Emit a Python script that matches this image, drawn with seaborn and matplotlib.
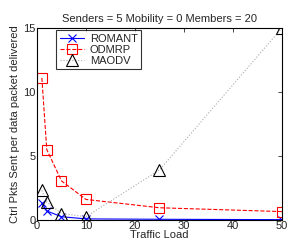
import matplotlib
matplotlib.use("Agg")
import matplotlib.pyplot as plt
import seaborn as sns
import pandas as pd

# Traffic load values and control packets per delivered data packet
traffic_load = [1, 2, 5, 10, 25, 50]
romant = [1.3, 0.7, 0.25, 0.08, 0.05, 0.02]
odmrp = [11.1, 5.5, 3.05, 1.6, 0.95, 0.65]
maodv = [2.3, 1.4, 0.5, 0.25, 3.9, 15.0]

df = pd.DataFrame({
    "load": traffic_load * 3,
    "value": romant + odmrp + maodv,
    "protocol": ["ROMANT"] * 6 + ["ODMRP"] * 6 + ["MAODV"] * 6,
})

sns.set_style("white")
plt.rcParams["font.family"] = ["Liberation Sans", "DejaVu Sans"]
plt.rcParams["font.size"] = 8

fig = plt.figure(figsize=(2.91, 2.43), dpi=100)
ax = fig.add_axes([0.127, 0.095, 0.842, 0.79])

styles = {
    "ROMANT": dict(color="blue", marker="x", linestyle="-", markersize=6),
    "ODMRP": dict(color="red", marker="s", linestyle="--", markersize=7),
    "MAODV": dict(color="black", marker="^", linestyle=":", markersize=9),
}
for name in ["ROMANT", "ODMRP", "MAODV"]:
    sub = df[df["protocol"] == name]
    st = styles[name]
    sns.lineplot(x=sub["load"], y=sub["value"], ax=ax, label=name,
                 color=st["color"], linestyle=st["linestyle"], linewidth=0.8,
                 marker=st["marker"], markersize=st["markersize"],
                 markerfacecolor="none", markeredgecolor=st["color"],
                 markeredgewidth=0.8)
# dotted MAODV line is grey in the original, markers stay black
ax.lines[2].set_color("#aaaaaa")
ax.lines[2].set_markeredgecolor("black")

ax.set_xlim(0, 50)
ax.set_ylim(0, 15)
ax.set_xticks([0, 10, 20, 30, 40, 50])
ax.set_yticks([0, 5, 10, 15])
ax.tick_params(direction="in", top=True, right=True, length=3, width=0.6, pad=1)
for s in ax.spines.values():
    s.set_linewidth(0.8)
    s.set_color("black")

ax.set_title("Senders = 5 Mobility = 0 Members = 20", fontsize=8, pad=4)
ax.set_xlabel("Traffic Load", labelpad=-1)
ax.set_ylabel("Ctrl Pkts Sent per data packet delivered", labelpad=2)

leg = ax.legend(loc="upper left", bbox_to_anchor=(0.07, 1.0), borderaxespad=0.2,
                frameon=True, fancybox=False, edgecolor="black", borderpad=0.3,
                labelspacing=0.1, handlelength=2.2, handletextpad=0.5)
leg.get_frame().set_linewidth(0.8)

fig.savefig("out.png", dpi=100)
